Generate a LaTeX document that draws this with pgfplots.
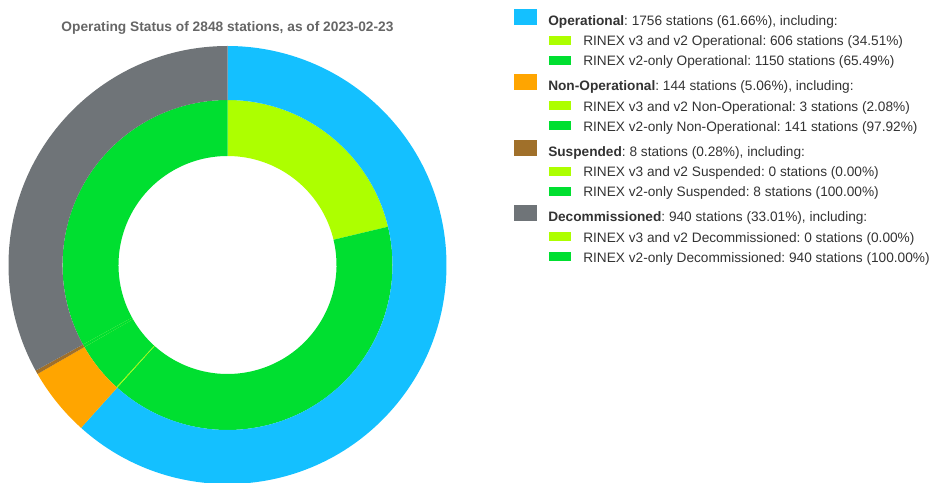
\documentclass[border=0pt]{standalone}
\usepackage{pgfplots}
\pgfplotsset{compat=1.18}
\usepackage{pgfplotstable}
\usepackage{fontspec}
\setmainfont{Liberation Sans}
\frenchspacing

\definecolor{cOp}{HTML}{14C0FF}
\definecolor{cNon}{HTML}{FFA500}
\definecolor{cSus}{HTML}{A0702A}
\definecolor{cDec}{HTML}{6F7478}
\definecolor{cV3}{HTML}{ADFF00}
\definecolor{cV2}{HTML}{00DF30}
\definecolor{txt}{HTML}{333333}
\definecolor{ttl}{HTML}{666666}

\tikzset{lg/.style={anchor=base west, inner sep=0pt, text=txt,
    font=\fontsize{10.25}{12}\selectfont}}

% outer ring: operating status
\pgfplotstableread{
count color
1756 cOp
144 cNon
8 cSus
940 cDec
}\statusdata
% inner ring: RINEX version inside each status
\pgfplotstableread{
count color
606 cV3
1150 cV2
3 cV3
141 cV2
0 cV3
8 cV2
0 cV3
940 cV2
}\rinexdata

% #1 table, #2 inner radius (pt), #3 outer radius (pt)
\newcommand\ring[3]{%
  \pgfplotstablegetrowsof{#1}%
  \pgfmathtruncatemacro\lastrow{\pgfplotsretval-1}%
  \def\cum{0}%
  \pgfmathsetmacro\dr{#3-#2}%
  \pgfplotsforeachungrouped \i in {0,...,\lastrow}{%
    \pgfplotstablegetelem{\i}{count}\of{#1}\let\cnt\pgfplotsretval
    \pgfplotstablegetelem{\i}{color}\of{#1}\let\col\pgfplotsretval
    \pgfmathsetmacro\angA{90-\cum/2848*360}%
    \pgfmathsetmacro\cum{\cum+\cnt}%
    \pgfmathsetmacro\angB{90-\cum/2848*360}%
    \edef\temp{\noexpand\fill[\col] (axis cs:227.5,217) ++(\angA:#2pt)
      arc[start angle=\angA, end angle=\angB, radius=#2pt] -- ++(\angB:\dr pt)
      arc[start angle=\angB, end angle=\angA, radius=#3pt] -- cycle;}%
    \temp
  }%
}

% #1 group index, #2 colour, #3 status, #4 rest of line, #5 #6 sub lines
\newcommand\legendgroup[6]{%
  \fill[#2] (axis cs:513.5,{482-(9+65.5*#1)}) rectangle (axis cs:536.5,{482-(25+65.5*#1)});
  \node[lg] at (axis cs:548,{482-(25.5+65.5*#1)}) {\textbf{#3}#4};
  \fill[cV3] (axis cs:548.5,{482-(36+65.5*#1)}) rectangle (axis cs:571,{482-(45+65.5*#1)});
  \node[lg] at (axis cs:583,{482-(46+65.5*#1)}) {#5};
  \fill[cV2] (axis cs:548.5,{482-(56+65.5*#1)}) rectangle (axis cs:571,{482-(65+65.5*#1)});
  \node[lg] at (axis cs:583,{482-(66+65.5*#1)}) {#6};
}

\begin{document}
\begin{tikzpicture}
\begin{axis}[
  x=0.75pt, y=0.75pt,
  xmin=0, xmax=934, ymin=0, ymax=482,
  hide axis,
]
\ring{\rinexdata}{81.75}{123.75}
\ring{\statusdata}{123.75}{164.25}

\node[anchor=base, inner sep=0pt, text=ttl, font=\fontsize{10.3}{12}\selectfont\bfseries]
  at (axis cs:227.5,450) {Operating Status of 2848 stations, as of 2023-02-23};

\legendgroup{0}{cOp}{Operational}{: 1756 stations (61.66\%), including:}
  {RINEX v3 and v2 Operational: 606 stations (34.51\%)}
  {RINEX v2-only Operational: 1150 stations (65.49\%)}
\legendgroup{1}{cNon}{Non-Operational}{: 144 stations (5.06\%), including:}
  {RINEX v3 and v2 Non-Operational: 3 stations (2.08\%)}
  {RINEX v2-only Non-Operational: 141 stations (97.92\%)}
\legendgroup{2}{cSus}{Suspended}{: 8 stations (0.28\%), including:}
  {RINEX v3 and v2 Suspended: 0 stations (0.00\%)}
  {RINEX v2-only Suspended: 8 stations (100.00\%)}
\legendgroup{3}{cDec}{Decommissioned}{: 940 stations (33.01\%), including:}
  {RINEX v3 and v2 Decommissioned: 0 stations (0.00\%)}
  {RINEX v2-only Decommissioned: 940 stations (100.00\%)}
\end{axis}
\pgfresetboundingbox
\path (current axis.south west) rectangle (current axis.north east);
\end{tikzpicture}
\end{document}
